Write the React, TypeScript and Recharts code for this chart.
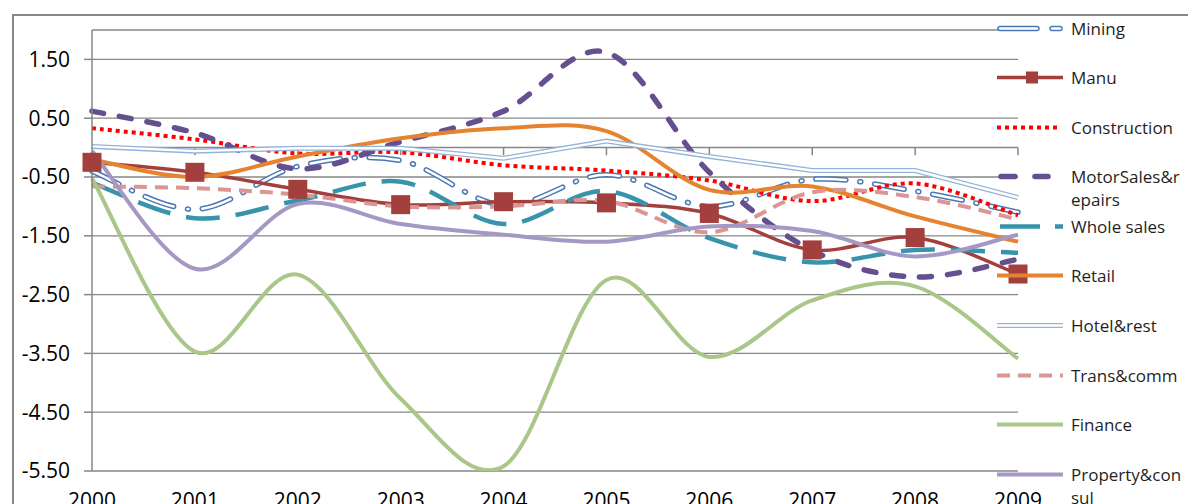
import React from "react";
import { LineChart, Line, XAxis, YAxis, CartesianGrid, ReferenceLine, Legend } from "recharts";

const FONT = "'Open Sans', sans-serif";
const AXIS_GRAY = "#878787";

const YEARS = ["2000", "2001", "2002", "2003", "2004", "2005", "2006", "2007", "2008", "2009"];
const Y_TICKS = [1.5, 0.5, -0.5, -1.5, -2.5, -3.5, -4.5, -5.5];

const MINING = [-0.4, -1.05, -0.32, -0.22, -0.98, -0.46, -1.0, -0.54, -0.74, -1.1];
const MANU = [-0.25, -0.42, -0.71, -0.97, -0.92, -0.94, -1.12, -1.74, -1.53, -2.15];
const CONSTRUCTION = [0.33, 0.14, -0.1, -0.08, -0.3, -0.39, -0.56, -0.91, -0.61, -1.15];
const MOTOR = [0.62, 0.25, -0.36, 0.1, 0.62, 1.62, -0.42, -1.75, -2.2, -1.9];
const WHOLE = [-0.6, -1.2, -0.9, -0.58, -1.3, -0.74, -1.54, -1.95, -1.74, -1.79];
const RETAIL = [-0.2, -0.5, -0.15, 0.16, 0.33, 0.28, -0.72, -0.66, -1.17, -1.6];
const HOTEL = [0.02, -0.06, -0.01, -0.01, -0.18, 0.11, -0.15, -0.39, -0.39, -0.85];
const TRANS = [-0.66, -0.69, -0.8, -1.0, -1.0, -0.91, -1.44, -0.76, -0.84, -1.22];
const FINANCE = [-0.52, -3.47, -2.16, -4.27, -5.42, -2.25, -3.56, -2.6, -2.36, -3.59];
const PROPERTY = [-0.06, -2.06, -0.96, -1.3, -1.48, -1.6, -1.34, -1.42, -1.85, -1.48];

const rows = YEARS.map((year, i) => ({
  year,
  Mining: MINING[i],
  Manu: MANU[i],
  Construction: CONSTRUCTION[i],
  "MotorSales&repairs": MOTOR[i],
  "Whole sales": WHOLE[i],
  Retail: RETAIL[i],
  "Hotel&rest": HOTEL[i],
  "Trans&comm": TRANS[i],
  Finance: FINANCE[i],
  "Property&consul": PROPERTY[i],
}));

// Excel's "smoothed line" is a Catmull-Rom spline through every point
function excelSmooth(context: any) {
  let pts: [number, number][] = [];
  return {
    areaStart() {},
    areaEnd() {},
    lineStart() {
      pts = [];
    },
    point(x: number, y: number) {
      pts.push([+x, +y]);
    },
    lineEnd() {
      if (!pts.length) return;
      context.moveTo(pts[0][0], pts[0][1]);
      for (let i = 0; i < pts.length - 1; i++) {
        const p0 = pts[i - 1] || pts[i];
        const p1 = pts[i];
        const p2 = pts[i + 1];
        const p3 = pts[i + 2] || p2;
        context.bezierCurveTo(
          p1[0] + (p2[0] - p0[0]) / 6,
          p1[1] + (p2[1] - p0[1]) / 6,
          p2[0] - (p3[0] - p1[0]) / 6,
          p2[1] - (p3[1] - p1[1]) / 6,
          p2[0],
          p2[1]
        );
      }
    },
  };
}

interface SeriesStyle {
  key: string;
  label: string[];
  color: string;
  width: number;
  dash?: string;
  cap?: "round" | "butt";
  core?: number;
  linear?: boolean;
  marker?: boolean;
  legendSegs: [number, number][];
  legendDash?: string;
}

const SERIES: SeriesStyle[] = [
  { key: "Mining", label: ["Mining"], color: "#4a78b4", width: 5.5, dash: "30 14 1 14", cap: "round", core: 2.5, legendSegs: [[3, 40], [55, 63]] },
  { key: "Manu", label: ["Manu"], color: "#a33f3c", width: 3.5, marker: true, legendSegs: [[0, 66]] },
  { key: "Construction", label: ["Construction"], color: "#ff0000", width: 4, dash: "4 4", legendSegs: [[0, 64]], legendDash: "4 4" },
  { key: "MotorSales&repairs", label: ["MotorSales&r", "epairs"], color: "#654f8e", width: 5.5, dash: "12 16", cap: "round", legendSegs: [[4, 18], [38, 51]] },
  { key: "Whole sales", label: ["Whole sales"], color: "#3794ab", width: 4.5, dash: "34 16", legendSegs: [[3, 43], [58, 66]] },
  { key: "Retail", label: ["Retail"], color: "#e5832f", width: 4, legendSegs: [[0, 66]] },
  { key: "Hotel&rest", label: ["Hotel&rest"], color: "#95b3d7", width: 5, core: 2.4, linear: true, legendSegs: [[0, 66]] },
  { key: "Trans&comm", label: ["Trans&comm"], color: "#d99694", width: 4, dash: "13 8", legendSegs: [[0, 66]], legendDash: "13 8" },
  { key: "Finance", label: ["Finance"], color: "#aac789", width: 4, legendSegs: [[0, 66]] },
  { key: "Property&consul", label: ["Property&con", "sul"], color: "#a698c4", width: 4, legendSegs: [[0, 66]] },
];

const SquareDot = (props: any) => {
  const { cx, cy, index } = props;
  if (cx == null || cy == null) return <g key={index} />;
  return <rect key={index} x={cx - 9.5} y={cy - 9.5} width={19} height={19} fill="#a33f3c" />;
};

function LegendSymbol({ s }: { s: SeriesStyle }) {
  const mid = 11.5;
  return (
    <svg width={66} height={23} style={{ display: "block", overflow: "visible" }}>
      {s.legendSegs.map(([a, b], i) => (
        <line
          key={i}
          x1={a}
          x2={b}
          y1={mid}
          y2={mid}
          stroke={s.color}
          strokeWidth={s.width}
          strokeDasharray={s.legendDash}
          strokeLinecap={s.cap === "round" ? "round" : "butt"}
        />
      ))}
      {s.core
        ? s.legendSegs.map(([a, b], i) => (
            <line key={`c${i}`} x1={a} x2={b} y1={mid} y2={mid} stroke="#fff" strokeWidth={s.core} strokeLinecap={s.cap === "round" ? "round" : "butt"} />
          ))
        : null}
      {s.marker ? <rect x={29} y={mid - 6} width={12} height={12} fill={s.color} /> : null}
    </svg>
  );
}

const LegendBlock = () => (
  <div style={{ fontFamily: FONT, fontSize: 17, color: "#1f1f1f" }}>
    {SERIES.map((s) => (
      <div key={s.key} style={{ height: 49.6, display: "flex", alignItems: "flex-start" }}>
        <LegendSymbol s={s} />
        <div style={{ marginLeft: 8, lineHeight: "23px", whiteSpace: "nowrap" }}>
          {s.label.map((l) => (
            <div key={l}>{l}</div>
          ))}
        </div>
      </div>
    ))}
  </div>
);

export default function App() {
  const lines = SERIES.flatMap((s) => {
    const curve = s.linear ? "linear" : excelSmooth;
    const out = [
      <Line
        key={s.key}
        dataKey={s.key}
        name={s.key}
        type={curve as any}
        stroke={s.color}
        strokeWidth={s.width}
        strokeDasharray={s.dash}
        strokeLinecap={s.cap === "round" ? "round" : "butt"}
        dot={s.marker ? SquareDot : false}
        activeDot={false}
        isAnimationActive={false}
      />,
    ];
    if (s.core) {
      out.push(
        <Line
          key={`${s.key}-core`}
          dataKey={s.key}
          name={`${s.key}-core`}
          type={curve as any}
          stroke="#ffffff"
          strokeWidth={s.core}
          strokeDasharray={s.dash}
          strokeLinecap={s.cap === "round" ? "round" : "butt"}
          dot={false}
          activeDot={false}
          isAnimationActive={false}
        />
      );
    }
    return out;
  });

  return (
    <div style={{ position: "absolute", left: 0, top: 0, width: 1188, height: 504, overflow: "hidden", background: "#fff" }}>
      <div style={{ position: "absolute", left: 12, top: 14, width: 1300, height: 700, border: `2px solid ${AXIS_GRAY}` }} />
      <div style={{ position: "absolute", left: 0, top: 0 }}>
        <LineChart width={1188} height={530} data={rows} margin={{ top: 30, right: 170, left: 0, bottom: 19 }}>
          <CartesianGrid vertical={false} stroke={AXIS_GRAY} strokeWidth={1.3} />
          <XAxis
            dataKey="year"
            axisLine={false}
            tickLine={false}
            interval={0}
            height={40}
            tickMargin={16}
            tick={{ fontSize: 21, fill: "#000", fontFamily: FONT }}
          />
          <YAxis
            domain={[-5.5, 2]}
            ticks={Y_TICKS}
            allowDataOverflow
            width={92}
            tickSize={8}
            tickMargin={14}
            axisLine={{ stroke: AXIS_GRAY, strokeWidth: 1.5 }}
            tickLine={{ stroke: AXIS_GRAY, strokeWidth: 1.5 }}
            tick={{ fontSize: 21, fill: "#000", fontFamily: FONT }}
            tickFormatter={(v: number) => v.toFixed(2)}
          />
          <ReferenceLine y={0} stroke={AXIS_GRAY} strokeWidth={1.5} />
          {YEARS.slice(1).map((y) => (
            <ReferenceLine
              key={`t${y}`}
              segment={[
                { x: y, y: 0 },
                { x: y, y: -0.13 },
              ]}
              stroke={AXIS_GRAY}
              strokeWidth={1.5}
            />
          ))}
          {lines}
          <Legend
            layout="vertical"
            align="center"
            verticalAlign="middle"
            content={LegendBlock}
            wrapperStyle={{ left: 997, top: 16.5, width: 191, height: 500 }}
          />
        </LineChart>
      </div>
    </div>
  );
}
